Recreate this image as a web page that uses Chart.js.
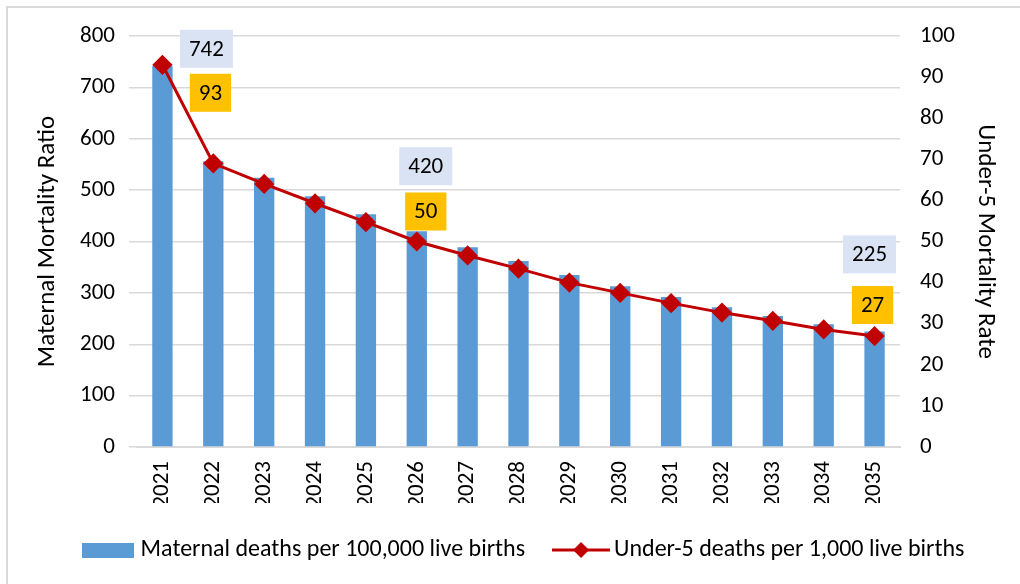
<!DOCTYPE html>
<html>
<head>
<meta charset="utf-8">
<script src="https://cdn.jsdelivr.net/npm/chart.js@4.4.1/dist/chart.umd.min.js"></script>
<style>
  html, body { margin: 0; padding: 0; background: #fff; }
  #wrap { width: 1020px; height: 584px; }
</style>
</head>
<body>
<div id="wrap"><canvas id="chart" width="1020" height="584"></canvas></div>
<script>
const years = ['2021', '2022', '2023', '2024', '2025', '2026', '2027', '2028', '2029', '2030', '2031', '2032', '2033', '2034', '2035'];
const maternalDeaths = [742, 556, 524, 488, 453, 420, 389, 362, 335, 313, 292, 272, 255, 239, 225];
const under5Deaths = [93, 69, 64, 59.3, 54.7, 50, 46.6, 43.4, 40, 37.5, 35, 32.7, 30.7, 28.6, 27];
const leftTicks = [0, 100, 200, 300, 400, 500, 600, 700, 800];
const rightTicks = [0, 10, 20, 30, 40, 50, 60, 70, 80, 90, 100];

const FONT = 'Carlito, Lato, "Liberation Sans", sans-serif';
const FS = 23;
const BLUE = '#5b9bd5';
const RED = '#c00000';

// callout boxes on a few points: dataset index (0 bars, 1 line), point index, offset from the mark
const callouts = [
  { ds: 0, i: 0, dx: 44, dy: -17, bg: '#dae3f3' },
  { ds: 1, i: 0, dx: 48, dy: 28, bg: '#ffc000' },
  { ds: 0, i: 5, dx: 9, dy: -65, bg: '#dae3f3' },
  { ds: 1, i: 5, dx: 9, dy: -30, bg: '#ffc000' },
  { ds: 0, i: 14, dx: -5, dy: -77, bg: '#dae3f3' },
  { ds: 1, i: 14, dx: -2, dy: -31, bg: '#ffc000' },
];

function swatchBar() {
  const c = document.createElement('canvas');
  c.width = 52; c.height = 15;
  const g = c.getContext('2d');
  g.fillStyle = BLUE;
  g.fillRect(0, 0, 52, 15);
  return c;
}

function swatchLine() {
  const c = document.createElement('canvas');
  c.width = 58; c.height = 18;
  const g = c.getContext('2d');
  g.strokeStyle = RED;
  g.lineWidth = 3;
  g.beginPath(); g.moveTo(0, 9); g.lineTo(58, 9); g.stroke();
  g.fillStyle = RED;
  g.beginPath(); g.moveTo(29, 1); g.lineTo(37, 9); g.lineTo(29, 17); g.lineTo(21, 9); g.closePath(); g.fill();
  return c;
}

const calloutPlugin = {
  id: 'callouts',
  afterDatasetsDraw(chart) {
    const ctx = chart.ctx;
    ctx.save();
    ctx.font = FS + 'px ' + FONT;
    ctx.textAlign = 'center';
    ctx.textBaseline = 'middle';
    callouts.forEach(c => {
      const el = chart.getDatasetMeta(c.ds).data[c.i];
      const value = chart.data.datasets[c.ds].data[c.i];
      const text = String(Math.round(value));
      const w = ctx.measureText(text).width + 18;
      const h = 38;
      const cx = el.x + c.dx, cy = el.y + c.dy;
      ctx.fillStyle = c.bg;
      ctx.fillRect(cx - w / 2, cy - h / 2, w, h);
      ctx.fillStyle = '#000';
      ctx.fillText(text, cx, cy + 1);
    });
    ctx.restore();
  }
};

const framePlugin = {
  id: 'frame',
  beforeDraw(chart) {
    const ctx = chart.ctx;
    ctx.save();
    ctx.fillStyle = '#fff';
    ctx.fillRect(0, 0, chart.width, chart.height);
    ctx.strokeStyle = '#d9d9d9';
    ctx.lineWidth = 2;
    ctx.strokeRect(7, 7, chart.width + 20, chart.height + 20);
    ctx.restore();
  }
};

new Chart(document.getElementById('chart'), {
  data: {
    labels: years,
    datasets: [
      {
        type: 'bar',
        label: 'Maternal deaths per 100,000 live births',
        data: maternalDeaths,
        yAxisID: 'y',
        backgroundColor: BLUE,
        barPercentage: 0.4,
        categoryPercentage: 1,
        order: 1,
      },
      {
        type: 'line',
        label: 'Under-5 deaths per 1,000 live births',
        data: under5Deaths,
        yAxisID: 'y2',
        borderColor: RED,
        backgroundColor: RED,
        borderWidth: 3,
        pointStyle: 'rectRot',
        pointRadius: 8,
        pointHoverRadius: 8,
        tension: 0,
        order: 0,
      },
    ]
  },
  options: {
    responsive: false,
    animation: false,
    devicePixelRatio: 1,
    layout: { padding: { top: 36, right: 2, left: 33, bottom: 12 } },
    plugins: {
      tooltip: { enabled: false },
      legend: {
        position: 'bottom',
        labels: {
          usePointStyle: true,
          pointStyleWidth: 42,
          color: '#000',
          font: { family: FONT, size: 24 },
          padding: 35,
          generateLabels(chart) {
            return [
              { text: 'Maternal deaths per 100,000 live births', pointStyle: swatchBar(), fontColor: '#000', lineWidth: 0, datasetIndex: 0 },
              { text: 'Under-5 deaths per 1,000 live births', pointStyle: swatchLine(), fontColor: '#000', lineWidth: 0, datasetIndex: 1 },
            ];
          }
        }
      }
    },
    scales: {
      x: {
        grid: { display: false },
        border: { display: true, color: '#d9d9d9', width: 2 },
        ticks: { color: '#000', font: { family: FONT, size: FS }, minRotation: 90, maxRotation: 90, padding: 6 },
        afterFit(scale) { scale.height = 56; }
      },
      y: {
        position: 'left',
        min: 0, max: 800,
        afterBuildTicks(scale) { scale.ticks = leftTicks.map(v => ({ value: v })); },
        grid: { color: '#d9d9d9', lineWidth: 1.5 },
        border: { display: false },
        ticks: { color: '#000', font: { family: FONT, size: FS }, padding: 14 },
        title: { display: true, text: 'Maternal Mortality Ratio', color: '#000', font: { family: FONT, size: 25 }, padding: { top: 0, bottom: 9 } },
        afterFit(scale) { scale.width = 104; }
      },
      y2: {
        position: 'right',
        min: 0, max: 100,
        afterBuildTicks(scale) { scale.ticks = rightTicks.map(v => ({ value: v })); },
        grid: { display: false },
        border: { display: false },
        ticks: { color: '#000', font: { family: FONT, size: FS }, padding: 12 },
        title: { display: true, text: 'Under-5 Mortality Rate', color: '#000', font: { family: FONT, size: 25 }, padding: { top: 18, bottom: 9 } },
        afterFit(scale) { scale.width = 118; }
      }
    }
  },
  plugins: [framePlugin, calloutPlugin]
});
</script>
</body>
</html>
